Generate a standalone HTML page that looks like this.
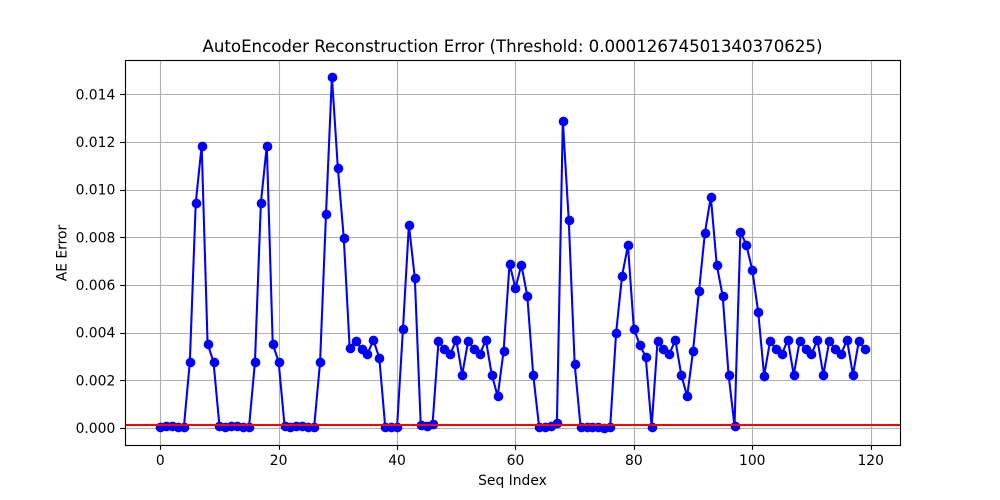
<!DOCTYPE html>
<html lang="en">
<head>
<meta charset="utf-8">
<title>AutoEncoder Reconstruction Error</title>
<style>
  html, body { margin: 0; padding: 0; background: #fff; }
  #chart { display: block; width: 1000px; height: 500px; }
  text { font-family: "DejaVu Sans", "Liberation Sans", sans-serif; fill: #000; }
</style>
</head>
<body>
<svg id="chart" xmlns="http://www.w3.org/2000/svg" width="1000" height="500" viewBox="0 0 1000 500">
  <rect x="0" y="0" width="1000" height="500" fill="#fff"></rect>
  <rect x="125" y="60" width="775" height="385" fill="#fff"></rect>
  <defs><clipPath id="plot-clip"><rect x="125" y="60" width="775" height="385"></rect></clipPath></defs>
  <g id="grid"></g>
  <g id="series" clip-path="url(#plot-clip)"></g>
  <g id="threshold" clip-path="url(#plot-clip)"></g>
  <g id="spines"></g>
  <g id="ticks"></g>
  <text x="512.5" y="52" text-anchor="middle" font-size="16.67" textLength="620" lengthAdjust="spacing">AutoEncoder Reconstruction Error (Threshold: 0.00012674501340370625)</text>
  <text x="512.5" y="485" text-anchor="middle" font-size="13.89">Seq Index</text>
  <text transform="translate(66.5 253) rotate(-90)" text-anchor="middle" font-size="13.89">AE Error</text>
</svg>
<script>
const aeErrors = [
  0.00005, 0.00009, 0.00009, 0.00005, 0.00005, 0.00277, 0.00945, 0.01184, 0.00353, 0.00277,
  0.00009, 0.00005, 0.00009, 0.00009, 0.00005, 0.00005, 0.00277, 0.00945, 0.01184, 0.00353,
  0.00277, 0.00009, 0.00005, 0.00009, 0.00009, 0.00005, 0.00005, 0.00277, 0.00898, 0.01473,
  0.01091, 0.00798, 0.00336, 0.00364, 0.00332, 0.00310, 0.00370, 0.00294, 0.00005, 0.00005,
  0.00005, 0.00416, 0.00852, 0.00630, 0.00013, 0.00008, 0.00017, 0.00364, 0.00332, 0.00310,
  0.00370, 0.00223, 0.00364, 0.00332, 0.00310, 0.00370, 0.00223, 0.00133, 0.00324, 0.00689,
  0.00587, 0.00684, 0.00554, 0.00223, 0.00004, 0.00004, 0.00008, 0.00019, 0.01289, 0.00873,
  0.00269, 0.00004, 0.00005, 0.00005, 0.00005, 0.00002, 0.00005, 0.00399, 0.00638, 0.00766,
  0.00416, 0.00349, 0.00298, 0.00005, 0.00364, 0.00332, 0.00310, 0.00370, 0.00223, 0.00133,
  0.00324, 0.00575, 0.00819, 0.00970, 0.00684, 0.00554, 0.00223, 0.00009, 0.00823, 0.00768,
  0.00663, 0.00487, 0.00219, 0.00364, 0.00332, 0.00310, 0.00370, 0.00223, 0.00364, 0.00332,
  0.00310, 0.00370, 0.00223, 0.00364, 0.00332, 0.00310, 0.00370, 0.00223, 0.00364, 0.00332
];
const thresholdValue = 0.00012674501340370625;
const xTickValues = [0, 20, 40, 60, 80, 100, 120];
const yTickValues = [0, 0.002, 0.004, 0.006, 0.008, 0.010, 0.012, 0.014];
const yTickLabels = ["0.000", "0.002", "0.004", "0.006", "0.008", "0.010", "0.012", "0.014"];

const NS = "http://www.w3.org/2000/svg";
const plot = { left: 125, right: 900, top: 60, bottom: 445 };
const xMin = -5.95, xMax = 124.95;
const yMin = -0.000713, yMax = 0.015439;

function xScale(v) { return plot.left + (v - xMin) / (xMax - xMin) * (plot.right - plot.left); }
function yScale(v) { return plot.bottom - (v - yMin) / (yMax - yMin) * (plot.bottom - plot.top); }
function snap(p) { return Math.floor(p + 0.5) + 0.5; }

function make(tag, parent, attrs, text) {
  const el = document.createElementNS(NS, tag);
  for (const k in attrs) el.setAttribute(k, attrs[k]);
  if (text !== undefined) el.textContent = text;
  parent.appendChild(el);
  return el;
}

const gridG = document.getElementById("grid");
const ticksG = document.getElementById("ticks");
const seriesG = document.getElementById("series");
const thresholdG = document.getElementById("threshold");
const spinesG = document.getElementById("spines");

xTickValues.forEach(function (v) {
  const px = snap(xScale(v));
  const g = make("line", gridG, { x1: px, x2: px, y1: plot.top, y2: plot.bottom, stroke: "#b0b0b0", "stroke-width": 1.11 });
  
  
  const t = make("line", ticksG, { x1: px, x2: px, y1: plot.bottom, y2: plot.bottom + 4.86, stroke: "#000", "stroke-width": 1.11 });
  
  
  const l = make("text", ticksG, { x: xScale(v), y: 465, "text-anchor": "middle", "font-size": 13.89 }, String(v));
  
  
});

yTickValues.forEach(function (v, i) {
  const py = snap(yScale(v));
  const g = make("line", gridG, { x1: plot.left, x2: plot.right, y1: py, y2: py, stroke: "#b0b0b0", "stroke-width": 1.11 });
  
  
  const t = make("line", ticksG, { x1: plot.left - 4.86, x2: plot.left, y1: py, y2: py, stroke: "#000", "stroke-width": 1.11 });
  
  
  const l = make("text", ticksG, { x: 115.3, y: yScale(v) + 5, "text-anchor": "end", "font-size": 13.89 }, yTickLabels[i]);
  
  
});

const linePoints = aeErrors.map(function (v, i) { return xScale(i).toFixed(2) + "," + yScale(v).toFixed(2); }).join(" ");
const errorLine = make("polyline", seriesG, { points: linePoints, fill: "none", stroke: "#0000ff", "stroke-width": 2.08, "stroke-linejoin": "round" });



aeErrors.forEach(function (v, i) {
  const dot = make("circle", seriesG, { cx: snap(xScale(i)), cy: snap(yScale(v)), r: 4.86, fill: "#0000ff" });
  
  
});

const thresholdY = yScale(thresholdValue);
const thresholdLine = make("line", thresholdG, { x1: plot.left, x2: plot.right, y1: thresholdY, y2: thresholdY, stroke: "#ff0000", "stroke-width": 2.08 });



const frame = make("rect", spinesG, { x: plot.left + 0.5, y: plot.top + 0.5, width: plot.right - plot.left, height: plot.bottom - plot.top, fill: "none", stroke: "#000", "stroke-width": 1.11 });


</script>
</body>
</html>
